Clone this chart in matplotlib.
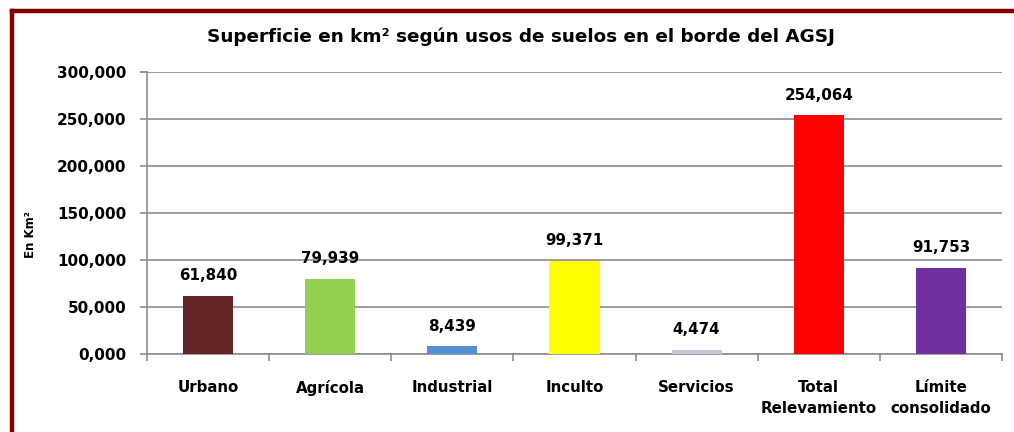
import matplotlib
matplotlib.use("Agg")
import matplotlib.pyplot as plt
from matplotlib.ticker import FuncFormatter
from matplotlib.lines import Line2D

categories = ["Urbano", "Agrícola", "Industrial", "Inculto", "Servicios",
              "Total\nRelevamiento", "Límite\nconsolidado"]
values = [61840, 79939, 8439, 99371, 4474, 254064, 91753]
colors = ["#632523", "#92D050", "#558ED5", "#FFFF00", "#CCC0DA", "#FF0000", "#7030A0"]
yticks = [0, 50000, 100000, 150000, 200000, 250000, 300000]
title = "Superficie en km² según usos de suelos en el borde del AGSJ"
ylabel = "En Km²"

plt.rcParams['font.family'] = ['DejaVu Sans']
plt.rcParams['font.weight'] = 'bold'

fig = plt.figure(figsize=(10.14, 4.32), dpi=100)
W, H = 1014, 432
ax = fig.add_axes([147/W, 1 - 354/H, (1002-147)/W, (354-72)/H])

x = list(range(len(categories)))
bars = ax.bar(x, values, width=0.41, color=colors, zorder=3)
ax.set_xlim(-0.5, len(categories) - 0.5)
ax.set_ylim(0, 300000)
ax.set_yticks(yticks)
ax.yaxis.set_major_formatter(FuncFormatter(lambda v, p: f"{int(v/1000)},000" if v else "0,000"))
ax.yaxis.grid(True, color="#8c8c8c", linewidth=1.2, zorder=0)
ax.set_axisbelow(True)

for s in ["top", "right"]:
    ax.spines[s].set_visible(False)
for s in ["left", "bottom"]:
    ax.spines[s].set_color("#8c8c8c")
    ax.spines[s].set_linewidth(1.2)

ax.set_xticks(x)
ax.set_xticklabels(categories, fontsize=10.8, fontweight='bold', linespacing=1.55)
ax.tick_params(axis='x', length=0, pad=18.5)
ax.set_xticks([i - 0.5 for i in range(len(categories) + 1)], minor=True)
ax.tick_params(axis='x', which='minor', length=5, color="#8c8c8c", width=1.2)
ax.tick_params(axis='y', length=5, color="#8c8c8c", width=1.2, labelsize=11, pad=10)
for lab in ax.get_yticklabels():
    lab.set_fontweight('bold')

for b, v in zip(bars, values):
    ax.annotate(f"{v:,}", (b.get_x() + b.get_width()/2, v), xytext=(0, 9),
                textcoords="offset points", ha="center", va="bottom",
                fontsize=10.9, fontweight="bold")

fig.text(521/W, 1 - 37/H, title, ha="center", va="center", fontsize=13.2, fontweight="bold")
fig.text(31/W, 1 - 235/H, ylabel, rotation=90, ha="center", va="center", fontsize=8.5, fontweight="bold")

# frame border
fig.add_artist(Line2D([11.5/W, 1.0], [1 - 10.5/H, 1 - 10.5/H], color="#800000", linewidth=3.2))
fig.add_artist(Line2D([11.5/W, 11.5/W], [0, 1 - 10.5/H], color="#800000", linewidth=3.2))

fig.savefig("out.png", dpi=100)
